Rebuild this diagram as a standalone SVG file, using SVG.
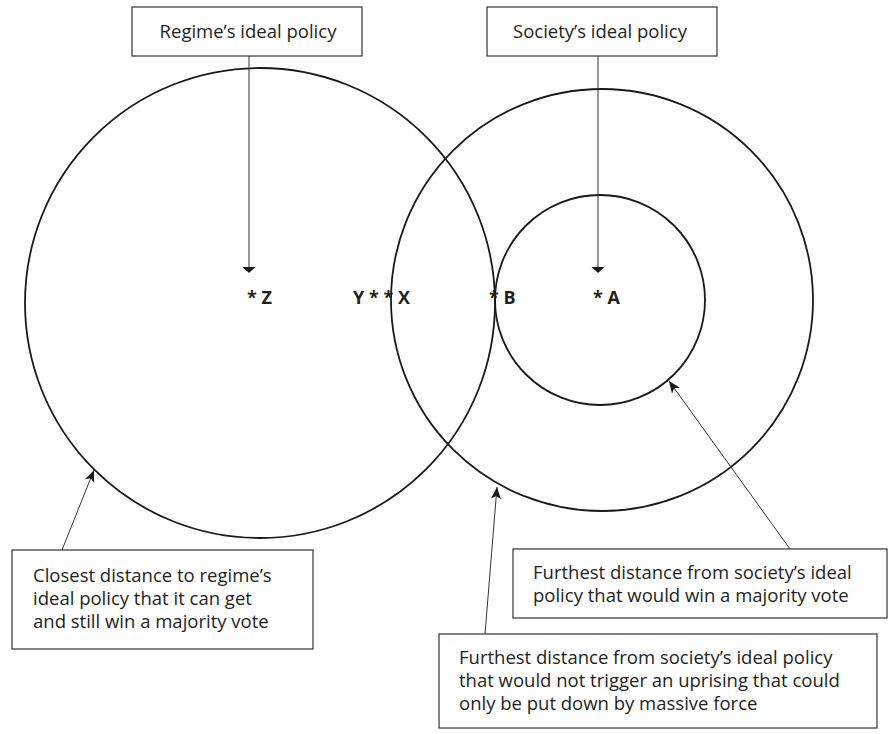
<svg xmlns="http://www.w3.org/2000/svg" width="888" height="734" viewBox="0 0 888 734">
<style>
.box{fill:#fff;stroke:#333;stroke-width:1.2}
.t{font-family:"Open Sans","Noto Sans","Liberation Sans",sans-serif;font-size:18.5px;fill:#231f20}
.lbl{font-family:"Open Sans","Noto Sans","Liberation Sans",sans-serif;font-size:18px;font-weight:bold;fill:#231f20}
.circ{fill:none;stroke:#1a1a1a;stroke-width:1.8}
.ln{stroke:#333;stroke-width:1;fill:none}
</style>
<defs>
<marker id="ah" viewBox="0 0 12 10" refX="12" refY="5" markerWidth="12" markerHeight="10" orient="auto" markerUnits="userSpaceOnUse">
<path d="M0,0 L12,5 L0,10 L3,5 Z" fill="#1a1a1a"/>
</marker>
</defs>
<rect width="888" height="734" fill="#fff"/>
<g id="circles">
<circle id="regime-circle" class="circ" cx="260" cy="303" r="235"/>
<circle id="society-outer" class="circ" cx="602" cy="300" r="211"/>
<circle id="society-inner" class="circ" cx="600" cy="300" r="105"/>
</g>
<g id="connectors">
<line class="ln" x1="249" y1="56" x2="249" y2="267"/>
<polygon points="242.5,267 255.5,267 249,273" fill="#1a1a1a"/>
<line class="ln" x1="598" y1="56" x2="598" y2="267"/>
<polygon points="591.5,267 604.5,267 598,273" fill="#1a1a1a"/>
<line class="ln" x1="62" y1="550" x2="94" y2="470" marker-end="url(#ah)"/>
<line class="ln" x1="485" y1="634" x2="497" y2="487" marker-end="url(#ah)"/>
<line class="ln" x1="790" y1="549" x2="669" y2="381" marker-end="url(#ah)"/>
</g>
<g id="regime-box">
<rect class="box" x="132" y="7" width="230" height="49"/>
<text class="t" x="248" y="38" text-anchor="middle">Regime’s ideal policy</text>
</g>
<g id="society-box">
<rect class="box" x="487" y="7" width="230" height="49"/>
<text class="t" x="600" y="38" text-anchor="middle">Society’s ideal policy</text>
</g>
<g id="points">
<text class="lbl" x="247" y="304">* Z</text>
<text class="lbl" x="353" y="304">Y * * X</text>
<text class="lbl" x="489" y="304">* B</text>
<text class="lbl" x="593" y="304">* A</text>
</g>
<g id="closest-box">
<rect class="box" x="12" y="550" width="301" height="99"/>
<text class="t"><tspan x="33" y="582">Closest distance to regime’s</tspan><tspan x="33" y="605">ideal policy that it can get</tspan><tspan x="33" y="628">and still win a majority vote</tspan></text>
</g>
<g id="majority-box">
<rect class="box" x="513" y="549" width="374" height="69"/>
<text class="t"><tspan x="533" y="579">Furthest distance from society’s ideal</tspan><tspan x="533" y="602">policy that would win a majority vote</tspan></text>
</g>
<g id="uprising-box">
<rect class="box" x="439" y="634" width="438" height="94"/>
<text class="t"><tspan x="459" y="664">Furthest distance from society’s ideal policy</tspan><tspan x="459" y="687">that would not trigger an uprising that could</tspan><tspan x="459" y="710">only be put down by massive force</tspan></text>
</g>
</svg>
